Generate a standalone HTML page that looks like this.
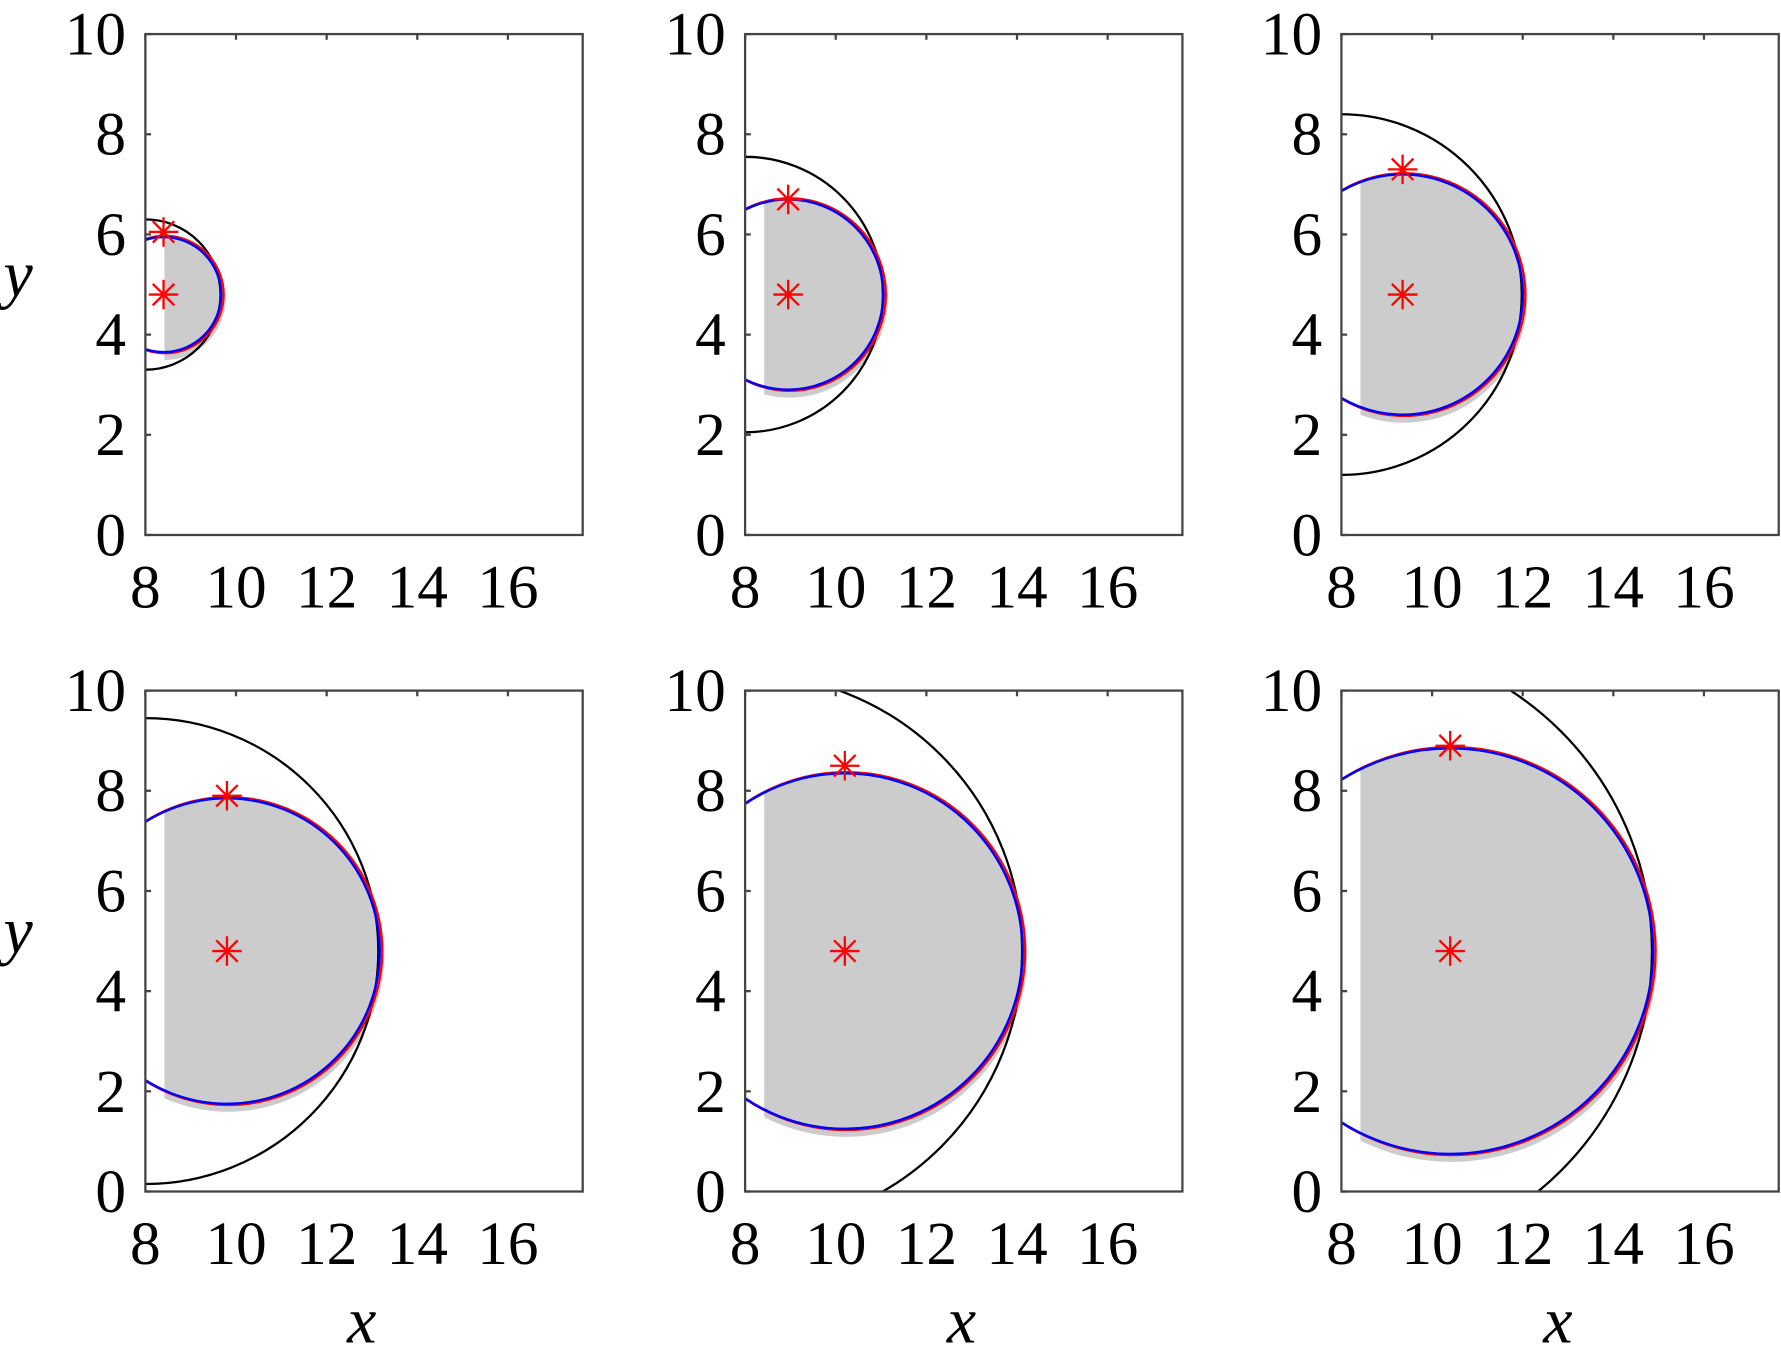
<!DOCTYPE html>
<html><head><meta charset="utf-8"><style>
html,body{margin:0;padding:0;background:#fff;}
svg{display:block;}
text{font-family:"Liberation Serif","Times New Roman",Times,serif;fill:#000;}
</style></head><body>
<svg id="fig" width="1781" height="1367" viewBox="0 0 1568 1203.5" xmlns="http://www.w3.org/2000/svg"></svg>
<script>
// data per panel (x, y in data units; radii in y data units)
const starX = [8.4, 8.95, 9.35, 9.8, 10.2, 10.4];
const starTopY = [6.05, 6.7, 7.3, 7.9, 8.5, 8.9];
const centerY = [4.8, 4.8, 4.8, 4.8, 4.8, 4.8];
const blueR = [1.15, 1.9, 2.4, 3.05, 3.55, 4.05];
const blackR = [1.5, 2.75, 3.6, 4.65, 5.53, 6.2];
const xTicks = [8, 10, 12, 14, 16];
const yTicks = [0, 2, 4, 6, 8, 10];
const xMin = 8, xMax = 17.65, yMin = 0, yMax = 10;

const NS = 'http://www.w3.org/2000/svg';
const svg = document.getElementById('fig');
function mk(tag, attrs, parent) {
  const e = document.createElementNS(NS, tag);
  for (const k in attrs) e.setAttribute(k, attrs[k]);
  (parent || svg).appendChild(e);
  return e;
}
const FF = '"Liberation Serif","Times New Roman",Times,serif';
const panelLeft = [128, 656, 1181];
const panelW = 385;
const rowTop = [30, 608];
const rowBottom = [471, 1049];

const defs = mk('defs', {});
for (let p = 0; p < 6; p++) {
  const col = p % 3, row = Math.floor(p / 3);
  const L = panelLeft[col], T = rowTop[row], B = rowBottom[row], R = L + panelW;
  const sx = (R - L) / (xMax - xMin), sy = (B - T) / (yMax - yMin);
  const X = v => L + (v - xMin) * sx;
  const Y = v => B - (v - yMin) * sy;
  const g = mk('g', {});
  
  
  const cp = mk('clipPath', {id: 'c' + p}, defs);
  mk('rect', {x: L, y: T, width: R - L, height: B - T}, cp);
  const cpg = mk('clipPath', {id: 'g' + p}, defs);
  mk('rect', {x: X(8.42), y: T, width: R - X(8.42), height: B - T}, cpg);
  const inner = mk('g', {'clip-path': 'url(#c' + p + ')'}, g);
  const rr = blueR[p] * sy;
  const gray = mk('ellipse', {cx: X(starX[p]) + 1, cy: Y(centerY[p]) + 3, rx: rr + 3, ry: rr + 4, fill: '#cccccc', 'clip-path': 'url(#g' + p + ')'}, inner);
  
  
  const bk = mk('circle', {cx: X(8), cy: Y(centerY[p]), r: blackR[p] * sy, fill: 'none', stroke: '#000', 'stroke-width': 2}, inner);
  
  
  const rc = mk('circle', {cx: X(starX[p]) + 1.2, cy: Y(centerY[p]), r: rr + 1, fill: 'none', stroke: '#ff0000', 'stroke-width': 2}, inner);
  
  
  const bc = mk('circle', {cx: X(starX[p]), cy: Y(centerY[p]), r: rr, fill: 'none', stroke: '#0000ff', 'stroke-width': 2.2}, inner);
  
  
  [centerY[p], starTopY[p]].forEach((yy, k) => {
    const s = mk('g', {stroke: '#ff0000', 'stroke-width': 2}, g);
    
    
    const cx = X(starX[p]), cy = Y(yy), a = 13, d = 9.5;
    mk('line', {x1: cx - a, y1: cy, x2: cx + a, y2: cy}, s);
    mk('line', {x1: cx, y1: cy - a, x2: cx, y2: cy + a}, s);
    mk('line', {x1: cx - d, y1: cy - d, x2: cx + d, y2: cy + d}, s);
    mk('line', {x1: cx - d, y1: cy + d, x2: cx + d, y2: cy - d}, s);
  });
  const fr = mk('rect', {x: L, y: T, width: R - L, height: B - T, fill: 'none', stroke: '#444', 'stroke-width': 2}, g);
  
  
  xTicks.forEach(t => {
    mk('line', {x1: X(t), y1: T, x2: X(t), y2: T + 5, stroke: '#444', 'stroke-width': 2}, g);
    const tx = mk('text', {x: X(t), y: B + 64, 'font-size': 54, 'text-anchor': 'middle', 'font-family': FF}, g);
    
    
    tx.textContent = t;
  });
  yTicks.forEach(t => {
    mk('line', {x1: L, y1: Y(t), x2: L + 5, y2: Y(t), stroke: '#444', 'stroke-width': 2}, g);
    const ty = mk('text', {x: L - 17, y: Y(t) + 18, 'font-size': 54, 'text-anchor': 'end', 'font-family': FF}, g);
    
    
    ty.textContent = t;
  });
  if (col === 0) {
    const yl = mk('text', {x: 16, y: (T + B) / 2 + 10, 'font-size': 58, 'font-style': 'italic', 'text-anchor': 'middle', 'font-family': FF}, g);
    
    
    yl.textContent = 'y';
  }
  if (row === 1) {
    const xl = mk('text', {x: (L + R) / 2 - 2, y: 1182, 'font-size': 58, 'font-style': 'italic', 'text-anchor': 'middle', 'font-family': FF}, g);
    
    
    xl.textContent = 'x';
  }
}
</script>
</body></html>
